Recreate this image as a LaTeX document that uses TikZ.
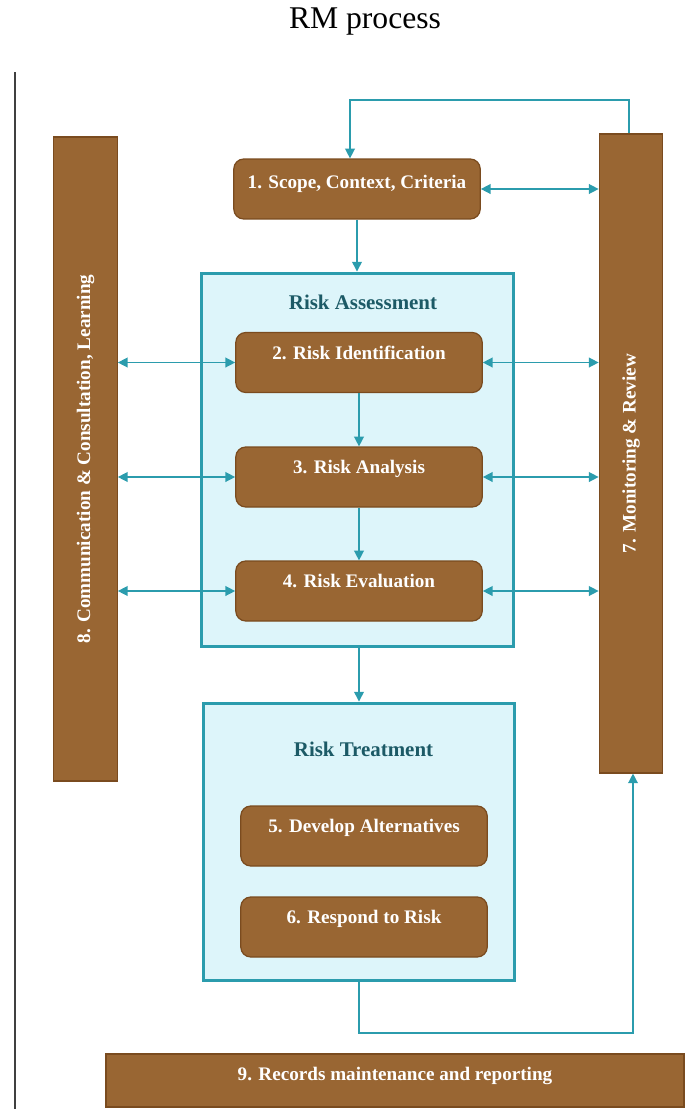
\documentclass[tikz,border=0pt]{standalone}
\usepackage{fontspec}
\setmainfont{Liberation Serif}
\usetikzlibrary{positioning,arrows.meta}
\definecolor{rmbrown}{HTML}{996633}
\definecolor{rmedge}{HTML}{7A4B1F}
\definecolor{rmteal}{HTML}{2B9CAD}
\definecolor{rmpale}{HTML}{DDF5FA}
\definecolor{rmhead}{HTML}{1C5A66}
\newcommand{\boxfont}{\fontsize{10.9}{12}\selectfont\bfseries}

\begin{document}
\begin{tikzpicture}[x=0.02cm,y=-0.02cm,
    procbox/.style={draw=rmedge,fill=rmbrown,rounded corners=0.2cm,line width=0.7pt,
        text=white,font=\boxfont,minimum width=4.93cm,minimum height=1.2cm,
        inner sep=0pt,text height=7.5pt,text depth=11pt},
    barbox/.style={draw=rmedge,fill=rmbrown,line width=0.7pt,minimum width=1.27cm,inner sep=0pt},
    bartext/.style={rotate=90,text=white,font=\boxfont},
    groupbox/.style={draw=rmteal,fill=rmpale,line width=1.7pt,inner sep=0pt},
    grouptitle/.style={text=rmhead,font=\fontsize{11.9}{13}\selectfont\bfseries},
    flow/.style={draw=rmteal,line width=0.8pt,>={Triangle[length=5.5pt,width=5.5pt]}}
]
    \useasboundingbox (0,0) rectangle (691,1109);
    % title and left rule
    \node[font=\fontsize{18}{20}\selectfont] (title) at (365,22) {RM process};
    \draw[line width=0.6pt,black!75] (15,72) -- (15,1109);

    % side bars
    \node[barbox,minimum height=12.88cm,
        label={[bartext]center:{8. Communication \& Consultation, Learning}}] (comm) at (85.5,459) {};
    \node[barbox,minimum height=12.78cm,
        label={[bartext]center:{7. Monitoring \& Review}}] (monitor) at (631,453.5) {};

    % groups
    \node[groupbox,minimum width=6.26cm,minimum height=7.48cm] (assess) at (357.5,460) {};
    \node[grouptitle] (assesstitle) at (363,302) {Risk Assessment};
    \node[groupbox,minimum width=6.24cm,minimum height=5.56cm] (treat) at (359,842) {};
    \node[grouptitle] (treattitle) at (363.5,749) {Risk Treatment};

    % process steps
    \node[procbox,text depth=8pt] (scope) at (357,189) {1. Scope, Context, Criteria};
    \node[procbox] (ident) at (359,362.5) {2. Risk Identification};
    \node[procbox] (analysis) at (359,477) {3. Risk Analysis};
    \node[procbox] (eval) at (359,591) {4. Risk Evaluation};
    \node[procbox] (develop) at (364,836) {5. Develop Alternatives};
    \node[procbox] (respond) at (364,927) {6. Respond to Risk};
    \node[procbox,sharp corners,minimum width=11.56cm,minimum height=1.06cm,text depth=7pt] (records) at (395,1080.5) {9. Records maintenance and reporting};

    % connectors
    \coordinate (looptop) at (350,100);
    \coordinate (loopbot) at (633,1033);
    \draw[flow,->] ([xshift=-0.04cm]monitor.north) |- (looptop) -- (looptop |- scope.north);
    \draw[flow,<->] (scope.east) -- (scope.east -| monitor.west);
    \draw[flow,->] (scope.south) -- (scope.south |- assess.north);
    \foreach \n in {ident,analysis,eval} {
        \draw[flow,<->] (comm.east |- \n.west) -- (\n.west);
        \draw[flow,<->] (\n.east) -- (\n.east -| monitor.west);
    }
    \draw[flow,->] (ident.south) -- (analysis.north);
    \draw[flow,->] (analysis.south) -- (eval.north);
    \draw[flow,->] (assess.south -| treat.north) -- (treat.north);
    \draw[flow,->] (treat.south) |- (loopbot) -- (loopbot |- monitor.south);
\end{tikzpicture}
\end{document}
